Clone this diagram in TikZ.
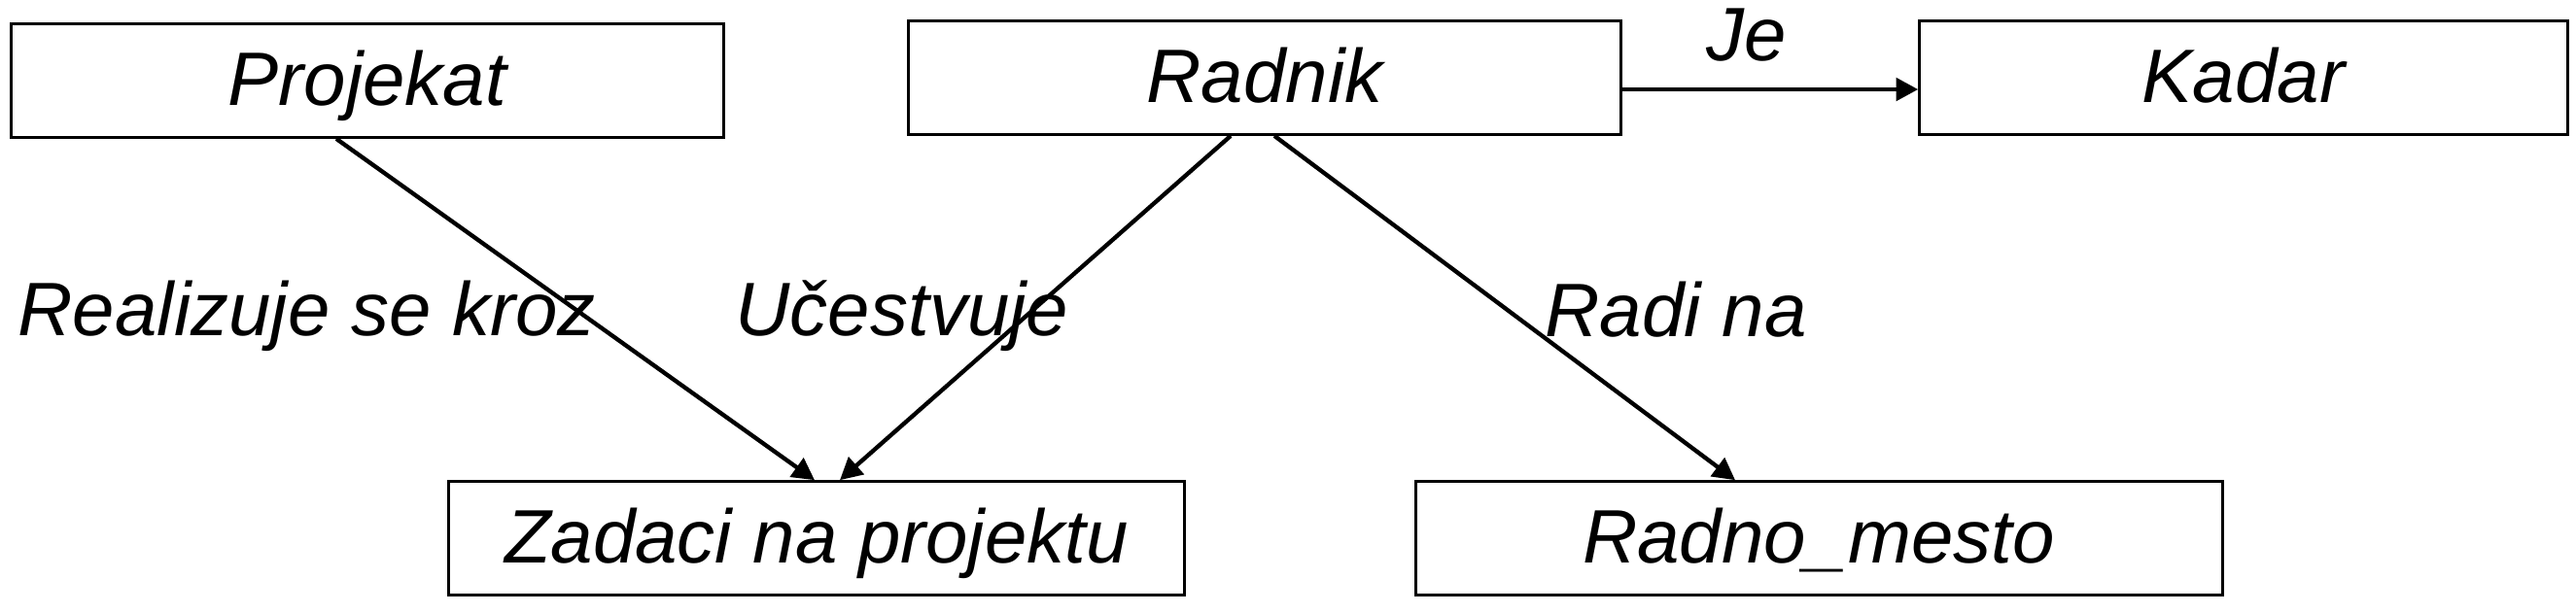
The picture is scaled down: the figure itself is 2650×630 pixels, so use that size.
\documentclass[tikz,border=0pt]{standalone}
\usepackage{fontspec}
\setmainfont{Liberation Sans}
\usetikzlibrary{arrows.meta, calc, positioning}

\begin{document}
\begin{tikzpicture}[
    x=0.3pt, y=-0.3pt,
    entity/.style={rectangle, draw, line width=0.9pt, minimum height=35pt, inner sep=0pt, text height=15pt, text depth=0pt, font=\fontsize{23.4}{28}\selectfont\itshape},
    rel/.style={inner sep=0pt, font=\fontsize{23.4}{28}\selectfont\itshape},
    arrow/.style={-{Triangle[length=6.8pt, width=7pt]}, line width=1.3pt},
]
\useasboundingbox (0,0) rectangle (2650,630);

\node[entity, minimum width=220pt] (projekat) at (378,83)   {Projekat};
\node[entity, minimum width=220pt] (radnik)   at (1301,80)  {Radnik};
\node[entity, minimum width=200pt] (kadar)    at (2308,80)  {Kadar};
\node[entity, minimum width=227pt] (zadaci)   at (840,554)  {Zadaci na projektu};
\node[entity, minimum width=249pt] (radno)    at (1871,554) {Radno\_mesto};

\draw[arrow] ($(radnik.east)+(0,12)$) coordinate (je) -- (je -| kadar.west);
\draw[arrow] ($(projekat.south)+(-32,0)$) -- ($(zadaci.north)+(-2,0)$);
\draw[arrow] ($(radnik.south)+(-35,0)$) -- ($(zadaci.north)+(24,0)$);
\draw[arrow] ($(radnik.south)+(10,0)$) -- ($(radno.north)+(-86,0)$);

\node[rel, anchor=base west] (l_je)   at (1755,62)  {Je};
\node[rel, anchor=base west] (l_real) at (18,345)   {Realizuje se kroz};
\node[rel, anchor=base west] (l_uc)   at (756,345)  {Učestvuje};
\node[rel, anchor=base west] (l_radi) at (1589,346) {Radi na};

\end{tikzpicture}
\end{document}
